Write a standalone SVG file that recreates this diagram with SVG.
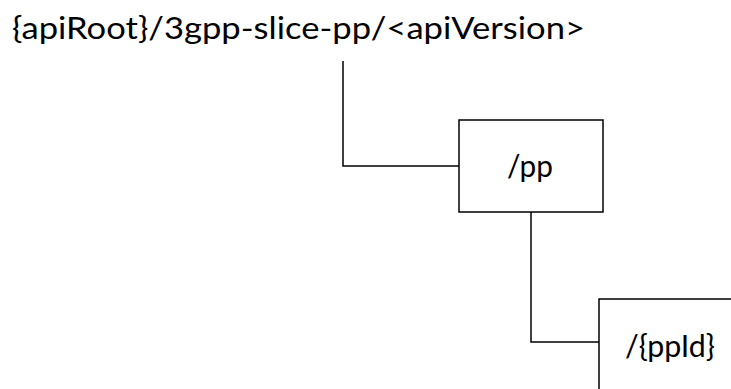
<svg xmlns="http://www.w3.org/2000/svg" width="731" height="389" viewBox="0 0 731 389">
<style>
.t{font-family:Lato,"Open Sans","Liberation Sans",sans-serif;font-size:31px;fill:#000}
.b{fill:#fff;stroke:#000;stroke-width:1.5}
.c{fill:none;stroke:#000;stroke-width:1.5}
</style>
<rect width="731" height="389" fill="#fff"/>
<g id="root"><text class="t" x="12" y="39" textLength="573" lengthAdjust="spacingAndGlyphs">{apiRoot}/3gpp-slice-pp/&lt;apiVersion&gt;</text></g>
<g id="connectors">
<polyline class="c" points="343,61 343,166 459,166"/>
<polyline class="c" points="531,212 531,342 599,342"/>
</g>
<g id="pp"><rect class="b" x="459" y="120" width="144" height="92"/><text class="t" x="530" y="177" text-anchor="middle" textLength="46" lengthAdjust="spacingAndGlyphs">/pp</text></g>
<g id="ppId"><rect class="b" x="599" y="299" width="140" height="100"/><text class="t" x="670" y="357" text-anchor="middle" textLength="90" lengthAdjust="spacingAndGlyphs">/{ppId}</text></g>
</svg>
